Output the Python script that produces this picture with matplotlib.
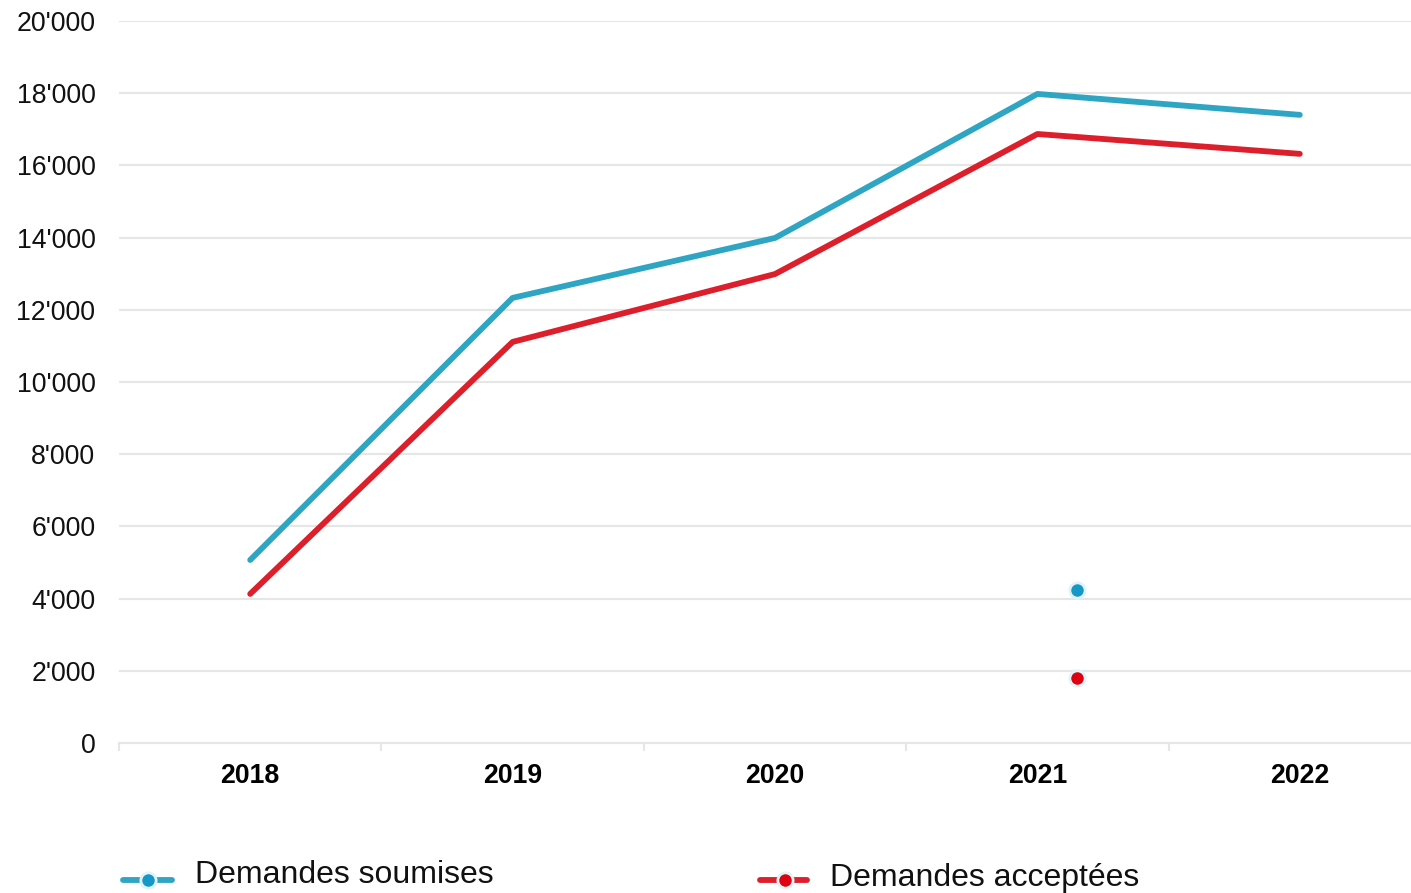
import numpy as np
import matplotlib
matplotlib.use("Agg")
from matplotlib import pyplot as plt
from matplotlib.lines import Line2D
from matplotlib.ticker import FuncFormatter

plt.rcParams['font.family'] = ['Liberation Sans', 'DejaVu Sans']

years = ["2018", "2019", "2020", "2021", "2022"]
soumises = [5070, 12330, 13990, 17980, 17400]
acceptees = [4130, 11110, 12990, 16870, 16320]
# lone markers drawn inside the plot (between 2021 and 2022)
stray_x = [3.15]
stray_soumises = [4240]
stray_acceptees = [1810]

blue = "#2ea5c3"
red = "#dc1f2b"
blue_dot = "#1698c6"
red_dot = "#e0000f"
grid_col = "#e6e6e6"

W, H = 1411, 893
fig = plt.figure(figsize=(W / 100, H / 100), dpi=100)
# x from -0.5 (px 119) to 4.5 (px ~1431)
ax = fig.add_axes([119 / W, 1 - 743 / H, (1431 - 119) / W, (743 - 21) / H])

x = np.arange(len(years))
ax.plot(x, soumises, color=blue, lw=4.2, solid_capstyle="round", solid_joinstyle="round", zorder=3)
ax.plot(x, acceptees, color=red, lw=4.2, solid_capstyle="round", solid_joinstyle="round", zorder=3)
ax.plot(stray_x, stray_soumises, "o", ms=11, mfc=blue_dot, mec="#dff3f9", mew=2, zorder=4)
ax.plot(stray_x, stray_acceptees, "o", ms=11, mfc=red_dot, mec="#dff3f9", mew=2, zorder=4)

ax.set_xlim(-0.5, 4.5)
ax.set_ylim(0, 20000)
ax.set_yticks(np.arange(0, 20001, 2000))
ax.yaxis.set_major_formatter(FuncFormatter(lambda v, p: f"{int(v):,}".replace(",", "'")))
ax.grid(axis="y", color=grid_col, lw=1.5)
ax.set_axisbelow(True)
ax.tick_params(axis="y", length=0, pad=17, labelsize=19.2, labelcolor="#111111")

ax.set_xticks(x)
ax.set_xticklabels(years, fontweight="bold", fontsize=19.2)
ax.set_xticks(np.arange(-0.5, 4.6, 1), minor=True)
ax.tick_params(axis="x", which="major", length=0, pad=14.5)
ax.tick_params(axis="x", which="minor", length=6, width=1.5, color=grid_col)

for s in ["top", "right", "left"]:
    ax.spines[s].set_visible(False)
ax.spines["bottom"].set_color(grid_col)
ax.spines["bottom"].set_linewidth(1.5)

# legend drawn by hand
def legend_item(x0, x1, xm, y, col, dot, label, xt, ybase):
    yf = 1 - y / H
    fig.add_artist(Line2D([x0 / W, x1 / W], [yf, yf], color=col, lw=4.2, solid_capstyle="round"))
    fig.add_artist(Line2D([xm / W], [yf], marker="o", ms=11, mfc=dot, mec="#dff3f9", mew=2))
    fig.text(xt / W, 1 - ybase / H, label, fontsize=23, va="baseline", ha="left", color="#111111")

legend_item(123, 172, 148, 880, blue, blue_dot, "Demandes soumises", 195, 883)
legend_item(760, 807, 785, 880, red, red_dot, "Demandes acceptées", 830, 886)

fig.savefig("out.png", dpi=100)
